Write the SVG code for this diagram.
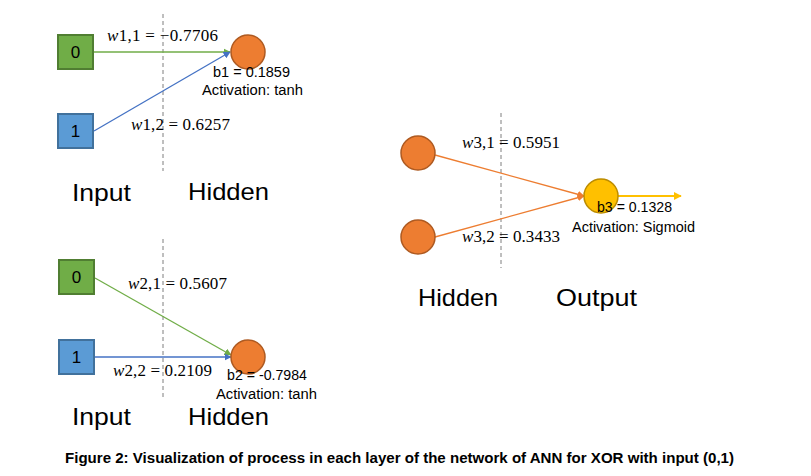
<svg xmlns="http://www.w3.org/2000/svg" width="811" height="476" viewBox="0 0 811 476">
<style>
.bg{fill:#fff}
.dash{stroke:#7f7f7f;stroke-width:1;stroke-dasharray:4,3;fill:none}
.gbox{fill:#70AD47;stroke:#507E32;stroke-width:2}
.bbox{fill:#5B9BD5;stroke:#41719C;stroke-width:2}
.oc{fill:#ED7D31;stroke:#AE5A21;stroke-width:1.5}
.yc{fill:#FFC000;stroke:#BC8C00;stroke-width:1.5}
.bt{font-family:"Liberation Sans",Arial,sans-serif;font-size:17px;fill:#000;text-anchor:middle}
.w{font-family:"Liberation Serif","Times New Roman",serif;font-size:17px;fill:#000}
.s{font-family:"Liberation Sans",Arial,sans-serif;font-size:14px;fill:#000}
.L{font-family:"Liberation Sans",Arial,sans-serif;font-size:24px;fill:#000}
.cap{font-family:"Liberation Sans",Arial,sans-serif;font-size:14px;font-weight:bold;fill:#000}
</style>
<defs>
<marker id="ag" viewBox="0 0 10 10" refX="9" refY="5" markerWidth="5.5" markerHeight="5.5" orient="auto"><path d="M0,0L10,5L0,10z" fill="#70AD47"/></marker>
<marker id="ab" viewBox="0 0 10 10" refX="9" refY="5" markerWidth="5.5" markerHeight="5.5" orient="auto"><path d="M0,0L10,5L0,10z" fill="#4472C4"/></marker>
<marker id="ao" viewBox="0 0 10 10" refX="9" refY="5" markerWidth="5.5" markerHeight="5.5" orient="auto"><path d="M0,0L10,5L0,10z" fill="#ED7D31"/></marker>
<marker id="ay" viewBox="0 0 10 10" refX="9" refY="5" markerWidth="4.5" markerHeight="4.5" orient="auto"><path d="M0,0L10,5L0,10z" fill="#FFC000"/></marker>
</defs>
<rect class="bg" x="0" y="0" width="811" height="476"/>

<g id="guides">
<line class="dash" x1="163" y1="14" x2="163" y2="171"/>
<line class="dash" x1="163" y1="239" x2="163" y2="397"/>
<line class="dash" x1="501" y1="113" x2="501" y2="268"/>
</g>

<g id="connectors">
<line x1="94" y1="52" x2="230" y2="52" stroke="#70AD47" stroke-width="1.3" marker-end="url(#ag)"/>
<line x1="94" y1="131" x2="230" y2="52" stroke="#4472C4" stroke-width="1.3" marker-end="url(#ab)"/>
<line x1="95" y1="278" x2="231" y2="355" stroke="#70AD47" stroke-width="1.3" marker-end="url(#ag)"/>
<line x1="95" y1="357" x2="231" y2="357" stroke="#4472C4" stroke-width="1.3" marker-end="url(#ab)"/>
<line x1="435" y1="155" x2="584" y2="196" stroke="#ED7D31" stroke-width="1.3" marker-end="url(#ao)"/>
<line x1="435" y1="237" x2="584" y2="196" stroke="#ED7D31" stroke-width="1.3" marker-end="url(#ao)"/>
<line x1="618" y1="196" x2="681" y2="196" stroke="#FFC000" stroke-width="1.8" marker-end="url(#ay)"/>
</g>

<g id="in1a"><rect class="gbox" x="58" y="35" width="35" height="34"/><text class="bt" x="75.5" y="58">0</text></g>
<g id="in1b"><rect class="bbox" x="58" y="114" width="35" height="34"/><text class="bt" x="75.5" y="137">1</text></g>
<g id="h1"><circle class="oc" cx="248" cy="52" r="17"/></g>

<g id="in2a"><rect class="gbox" x="59" y="260" width="35" height="34"/><text class="bt" x="76.5" y="283">0</text></g>
<g id="in2b"><rect class="bbox" x="59" y="340" width="35" height="34"/><text class="bt" x="76.5" y="363">1</text></g>
<g id="h2"><circle class="oc" cx="248" cy="357" r="17"/></g>

<g id="h3a"><circle class="oc" cx="418" cy="153" r="17"/></g>
<g id="h3b"><circle class="oc" cx="418" cy="237" r="17"/></g>
<g id="out"><circle class="yc" cx="601" cy="196" r="17"/></g>

<g id="labels">
<text class="w" x="107" y="41" textLength="111" lengthAdjust="spacing"><tspan font-style="italic">w</tspan>1,1 = −0.7706</text>
<text class="s" x="213" y="77" textLength="77" lengthAdjust="spacingAndGlyphs">b1 = 0.1859</text>
<text class="s" x="202" y="95" textLength="101" lengthAdjust="spacingAndGlyphs">Activation: tanh</text>
<text class="w" x="131" y="130" textLength="99" lengthAdjust="spacing"><tspan font-style="italic">w</tspan>1,2 = 0.6257</text>
<text class="L" x="72" y="201" textLength="59" lengthAdjust="spacingAndGlyphs">Input</text>
<text class="L" x="188" y="200" textLength="81" lengthAdjust="spacingAndGlyphs">Hidden</text>

<text class="w" x="128" y="289" textLength="99" lengthAdjust="spacing"><tspan font-style="italic">w</tspan>2,1 = 0.5607</text>
<text class="w" x="113" y="376" textLength="99" lengthAdjust="spacing"><tspan font-style="italic">w</tspan>2,2 = 0.2109</text>
<text class="s" x="227" y="380" textLength="80" lengthAdjust="spacingAndGlyphs">b2 = -0.7984</text>
<text class="s" x="216" y="399" textLength="101" lengthAdjust="spacingAndGlyphs">Activation: tanh</text>
<text class="L" x="72" y="425" textLength="59" lengthAdjust="spacingAndGlyphs">Input</text>
<text class="L" x="188" y="425" textLength="81" lengthAdjust="spacingAndGlyphs">Hidden</text>

<text class="w" x="462" y="148" textLength="98" lengthAdjust="spacing"><tspan font-style="italic">w</tspan>3,1 = 0.5951</text>
<text class="w" x="462" y="242" textLength="98" lengthAdjust="spacing"><tspan font-style="italic">w</tspan>3,2 = 0.3433</text>
<text class="s" x="597" y="212" textLength="75" lengthAdjust="spacingAndGlyphs">b3 = 0.1328</text>
<text class="s" x="572" y="232" textLength="123" lengthAdjust="spacingAndGlyphs">Activation: Sigmoid</text>
<text class="L" x="418" y="306" textLength="80" lengthAdjust="spacingAndGlyphs">Hidden</text>
<text class="L" x="556" y="306" textLength="81" lengthAdjust="spacingAndGlyphs">Output</text>

<text class="cap" x="65" y="463" textLength="669" lengthAdjust="spacingAndGlyphs">Figure 2: Visualization of process in each layer of the network of ANN for XOR with input (0,1)</text>
</g>
</svg>
